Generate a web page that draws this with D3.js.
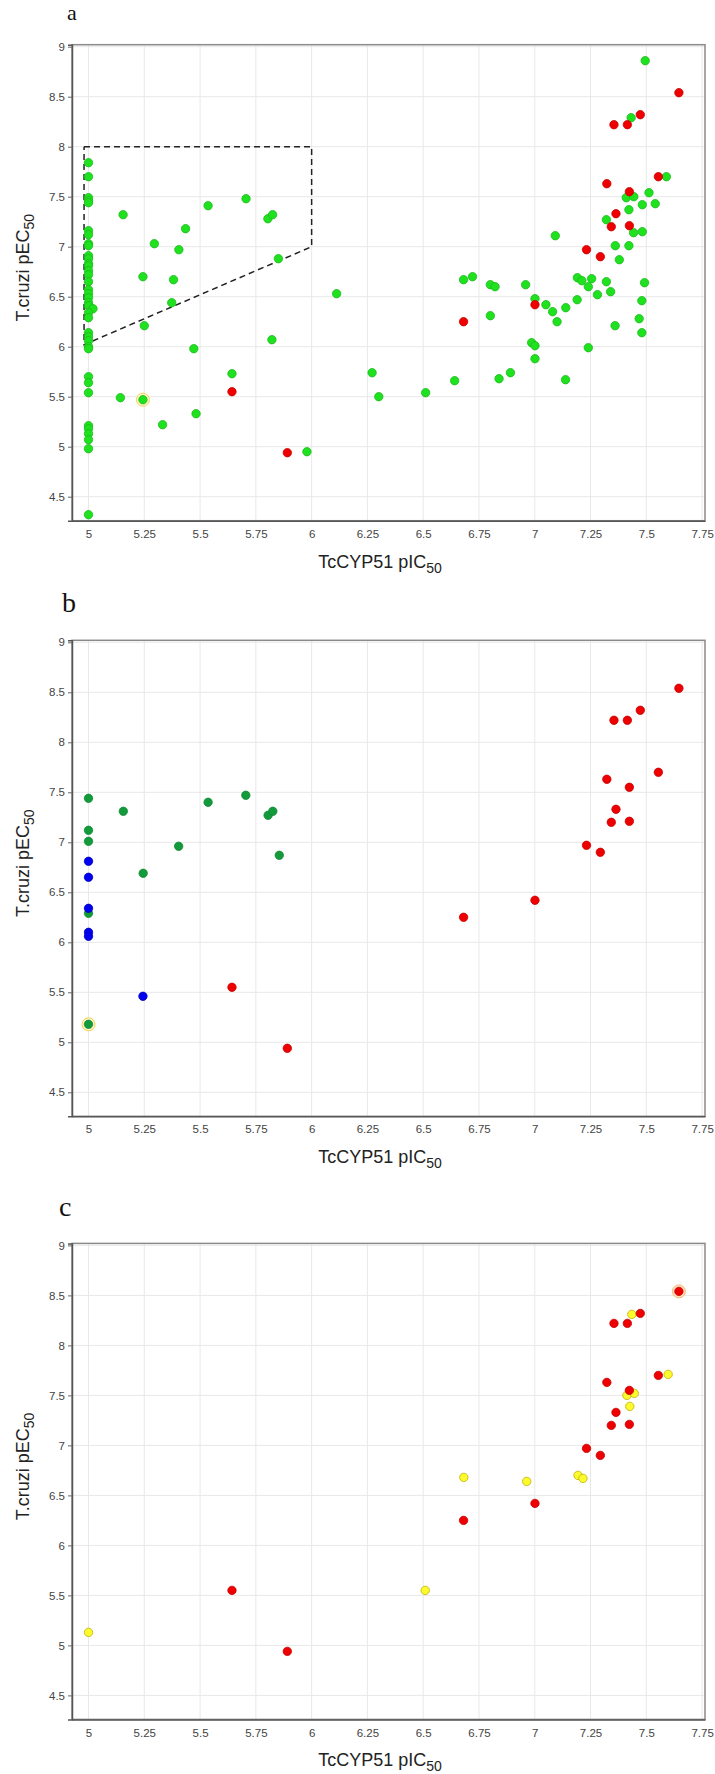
<!DOCTYPE html>
<html>
<head>
<meta charset="utf-8">
<script src="https://cdn.jsdelivr.net/npm/d3@7"></script>
<style>
  html, body { margin: 0; padding: 0; background: #fff; }
  svg { display: block; }
</style>
</head>
<body>
<div id="chart"></div>
<script>
// ---------------- DATA ----------------
const xTicks = [5, 5.25, 5.5, 5.75, 6, 6.25, 6.5, 6.75, 7, 7.25, 7.5, 7.75];
const yTicks = [4.5, 5, 5.5, 6, 6.5, 7, 7.5, 8, 8.5, 9];
const xTitle = "TcCYP51 pIC";
const yTitle = "T.cruzi pEC";
const titleSub = "50";
const panelLabels = ["a", "b", "c"];

// selection region drawn in panel a (data coordinates)
const selectionBox = [[4.98, 8], [6, 8], [6, 7], [4.98, 6.02], [4.98, 8]];

// compounds (green) in panel a: [pIC50, pEC50]
const aGreen = [
  [5,7.84],[5,7.70],[5,7.49],[5,7.46],[5,7.44],[5,7.16],[5,7.12],[5,7.03],[5,7.01],[5,6.91],
  [5,6.88],[5,6.83],[5,6.81],[5,6.76],[5,6.72],[5,6.65],[5,6.57],[5,6.53],[5,6.49],[5,6.44],
  [5,6.41],[5.02,6.38],[5,6.34],[5,6.29],[5,6.14],[5,6.10],[5,6.06],[5,6.00],[5,5.98],[5,5.70],
  [5,5.64],[5,5.54],[5,5.21],[5,5.18],[5,5.13],[5,5.07],[5,4.98],[5,4.32],
  [5.155,7.32],[5.295,7.03],[5.244,6.70],[5.25,6.21],[5.373,6.44],[5.381,6.67],[5.405,6.97],
  [5.435,7.18],[5.472,5.98],[5.536,7.41],[5.706,7.48],[5.804,7.28],[5.825,7.32],[5.851,6.88],
  [5.822,6.07],[6.112,6.53],[5.143,5.49],[5.244,5.47],[5.332,5.22],[5.482,5.33],[5.643,5.73],
  [5.979,4.95],[6.271,5.74],[6.301,5.50],[6.511,5.54],[6.641,5.66],[6.840,5.68],[6.891,5.74],
  [6.986,6.04],[7.001,6.01],[7.001,5.88],[7.138,5.67],[7.240,5.99],
  [7.495,8.86],[7.432,8.29],[7.590,7.70],[7.410,7.49],[7.444,7.50],[7.512,7.54],[7.482,7.42],
  [7.540,7.43],[7.422,7.37],[7.321,7.27],[7.443,7.14],[7.482,7.15],[7.092,7.11],[7.361,7.01],
  [7.422,7.01],[7.379,6.87],[6.681,6.67],[6.721,6.70],[6.801,6.62],[6.822,6.60],[6.959,6.62],
  [7.191,6.69],[7.211,6.66],[7.255,6.68],[7.240,6.60],[7.321,6.65],[7.492,6.64],[7.340,6.55],
  [7.281,6.52],[7.001,6.48],[7.050,6.42],[7.080,6.35],[7.139,6.39],[7.190,6.47],[7.100,6.25],
  [7.480,6.46],[6.801,6.31],[7.468,6.28],[7.360,6.21],[7.480,6.14]
];
const aHighlight = [[5.244, 5.47]];

// red compounds (shown in all three panels)
const redPts = [
  [5.643,5.55],[5.891,4.94],[6.681,6.25],[7.001,6.42],[7.232,6.97],[7.294,6.90],[7.343,7.20],
  [7.424,7.21],[7.364,7.33],[7.424,7.55],[7.323,7.63],[7.554,7.70],[7.355,8.22],[7.415,8.22],
  [7.473,8.32],[7.646,8.54]
];

// panel b groups
const bGreen = [
  [5,7.44],[5,7.12],[5,7.01],[5,6.29],[5,5.18],[5.156,7.31],[5.245,6.69],[5.404,6.96],
  [5.536,7.40],[5.705,7.47],[5.805,7.27],[5.826,7.31],[5.855,6.87]
];
const bBlue = [[5,6.81],[5,6.65],[5,6.34],[5,6.10],[5,6.06],[5.244,5.46]];
const bHighlight = [[5, 5.18]];

// panel c groups
const cYellow = [
  [5,5.13],[6.509,5.55],[6.682,6.68],[6.964,6.64],[7.194,6.70],[7.216,6.67],[7.413,7.50],
  [7.446,7.52],[7.426,7.39],[7.435,8.31],[7.598,7.71]
];
const cHighlight = [[7.646, 8.54]];

// ---------------- LAYOUT ----------------
const W = 715, H = 1774;
const left = 72, right = 705, plotH = 476;
const panelTops = [44.7, 640.3, 1243.4];
const labelPos = [[67, 20], [62, 612], [59, 1216]];
const labelSizes = [22, 28, 28];
const xDomain = [4.926, 7.763];
const yDomain = [4.26, 9.02];

const styles = {
  green:  { fill: "#1fe21f", stroke: "#1cb81c" },
  red:    { fill: "#ee0000", stroke: "#c80000" },
  dgreen: { fill: "#139a3b", stroke: "#128a35" },
  blue:   { fill: "#0000ee", stroke: "#0000c0" },
  yellow: { fill: "#fbfb2e", stroke: "#c2b000" }
};

const panels = [
  { layers: [["green", aGreen], ["red", redPts]], highlight: aHighlight, hl: { fill: "#fff6c8", stroke: "#f0d25a" }, box: true },
  { layers: [["red", redPts], ["dgreen", bGreen], ["blue", bBlue]], highlight: bHighlight, hl: { fill: "#fff6c8", stroke: "#f0d25a" } },
  { layers: [["yellow", cYellow], ["red", redPts]], highlight: cHighlight, hl: { fill: "#fde2bf", stroke: "#f6b878" } }
];

const svg = d3.select("#chart").append("svg")
  .attr("width", W).attr("height", H)
  .style("font-family", "'Liberation Sans', Arial, sans-serif");
svg.append("rect").attr("width", W).attr("height", H).attr("fill", "#fff");

const x = d3.scaleLinear().domain(xDomain).range([left, right]);

panels.forEach((p, i) => {
  const top = panelTops[i];
  const bottom = top + plotH;
  const y = d3.scaleLinear().domain(yDomain).range([bottom, top]);
  const g = svg.append("g");

  // gridlines
  g.append("g").selectAll("line.v").data(xTicks).join("line")
    .attr("x1", d => x(d)).attr("x2", d => x(d))
    .attr("y1", top).attr("y2", bottom)
    .attr("stroke", "#e8e8e8").attr("stroke-width", 1);
  g.append("g").selectAll("line.h").data(yTicks).join("line")
    .attr("x1", left).attr("x2", right)
    .attr("y1", d => y(d)).attr("y2", d => y(d))
    .attr("stroke", "#e8e8e8").attr("stroke-width", 1);

  // frame
  g.append("rect").attr("x", left).attr("y", top)
    .attr("width", right - left).attr("height", plotH)
    .attr("fill", "none").attr("stroke", "#8a8a8a").attr("stroke-width", 1.5);

  // axes
  const xa = g.append("g").attr("transform", `translate(0,${bottom})`)
    .call(d3.axisBottom(x).tickValues(xTicks).tickSize(0).tickPadding(9).tickFormat(d3.format("")));
  const ya = g.append("g").attr("transform", `translate(${left},0)`)
    .call(d3.axisLeft(y).tickValues(yTicks).tickSize(4).tickPadding(3).tickFormat(d3.format("")));
  [xa, ya].forEach(a => {
    a.select(".domain").attr("stroke", "#555").attr("stroke-width", 1.5);
    a.selectAll(".tick line").attr("stroke", "#666");
    a.selectAll(".tick text").attr("fill", "#444").style("font-size", "11.5px")
      .style("font-family", "'Liberation Sans', Arial, sans-serif");
  });

  // selection box
  if (p.box) {
    g.append("path")
      .attr("d", d3.line().x(d => x(d[0])).y(d => y(d[1]))(selectionBox))
      .attr("fill", "none").attr("stroke", "#222").attr("stroke-width", 1.5)
      .attr("stroke-dasharray", "6,4");
  }

  // highlight rings
  g.append("g").selectAll("circle").data(p.highlight).join("circle")
    .attr("cx", d => x(d[0])).attr("cy", d => y(d[1])).attr("r", 6.5)
    .attr("fill", p.hl.fill).attr("stroke", p.hl.stroke).attr("stroke-width", 1);

  // points
  p.layers.forEach(([key, data]) => {
    g.append("g").selectAll("circle").data(data).join("circle")
      .attr("cx", d => x(d[0])).attr("cy", d => y(d[1])).attr("r", 4.2)
      .attr("fill", styles[key].fill).attr("stroke", styles[key].stroke).attr("stroke-width", 0.8);
  });

  // x title
  const xt = g.append("text").attr("x", 380).attr("y", bottom + 47)
    .attr("text-anchor", "middle").attr("fill", "#222").style("font-size", "18px");
  xt.append("tspan").text(xTitle);
  xt.append("tspan").attr("dy", 5).style("font-size", "14px").text(titleSub);

  // y title
  const yt = g.append("text")
    .attr("transform", `translate(29,${top + 223}) rotate(-90)`)
    .attr("text-anchor", "middle").attr("fill", "#222").style("font-size", "18px");
  yt.append("tspan").text(yTitle);
  yt.append("tspan").attr("dy", 5).style("font-size", "14px").text(titleSub);

  // panel label
  svg.append("text").attr("x", labelPos[i][0]).attr("y", labelPos[i][1])
    .style("font-family", "'Liberation Serif', 'Times New Roman', serif")
    .style("font-size", labelSizes[i] + "px").attr("fill", "#111").text(panelLabels[i]);
});
</script>
</body>
</html>
